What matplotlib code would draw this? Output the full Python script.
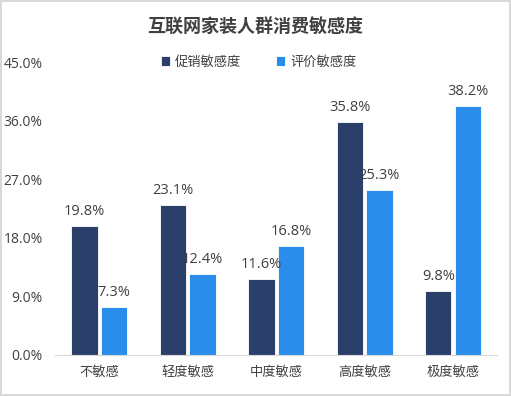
import numpy as np
import matplotlib
matplotlib.use("Agg")
import matplotlib.pyplot as plt
from matplotlib.ticker import FuncFormatter

plt.rcParams['font.family'] = ['Open Sans', 'Noto Sans CJK SC', 'DejaVu Sans']
cjk = ['Noto Sans CJK SC', 'DejaVu Sans']

categories = ['不敏感', '轻度敏感', '中度敏感', '高度敏感', '极度敏感']
promo = [19.8, 23.1, 11.6, 35.8, 9.8]
review = [7.3, 12.4, 16.8, 25.3, 38.2]
series_names = ['促销敏感度', '评价敏感度']
title = '互联网家装人群消费敏感度'

c_dark = '#2B3F6B'
c_light = '#2A8CEB'
text_c = '#404040'

fig = plt.figure(figsize=(5.11, 3.96), dpi=100)
fig.patch.set_edgecolor('#D9D9D9')
fig.patch.set_linewidth(1.5)
ax = fig.add_axes([0.108, 0.104, 0.865, 0.739])

x = np.arange(len(categories))
w = 0.30
b1 = ax.bar(x - w / 2 - 0.017, promo, w, color=c_dark, edgecolor='white', linewidth=0.6, label=series_names[0])
b2 = ax.bar(x + w / 2 + 0.017, review, w, color=c_light, edgecolor='white', linewidth=0.6, label=series_names[1])

for bars, vals in ((b1, promo), (b2, review)):
    for r, v in zip(bars, vals):
        ax.annotate(f'{v:.1f}%', (r.get_x() + r.get_width() / 2, v), xytext=(0, 5),
                    textcoords='offset points', ha='center', va='bottom', fontsize=10.5, color=text_c)

ax.set_xlim(-0.5, len(categories) - 0.5)
ax.set_ylim(0, 45)
ax.set_yticks(np.arange(0, 46, 9))
ax.yaxis.set_major_formatter(FuncFormatter(lambda v, p: f'{v:.1f}%'))
ax.set_xticks(x)
ax.set_xticklabels(categories, family=cjk, fontsize=9.5)
ax.tick_params(axis='both', length=0, labelsize=10, labelcolor=text_c)
ax.tick_params(axis='x', pad=8)
ax.tick_params(axis='y', pad=9)
for lab in ax.get_xticklabels():
    lab.set_fontsize(9.5)
for s in ['top', 'right', 'left']:
    ax.spines[s].set_visible(False)
ax.spines['bottom'].set_color('#D9D9D9')

fig.text(0.5, 0.93, title, ha='center', va='center', fontsize=13, fontweight='bold',
         color=text_c, family=cjk)
ax.legend(loc='center', bbox_to_anchor=(0.46, 1.0), ncol=2, frameon=False,
          prop={'family': cjk, 'size': 9.5},
          handlelength=0.7, handleheight=0.7, handletextpad=0.4, columnspacing=2.6, labelcolor=text_c)

fig.savefig('out.png', dpi=100)
